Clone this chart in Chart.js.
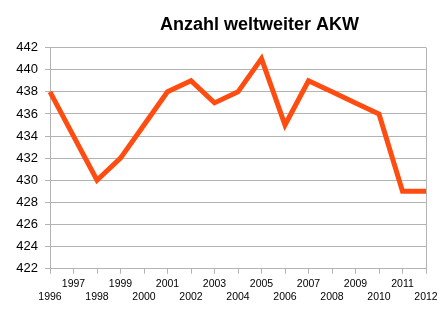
<!DOCTYPE html>
<html>
<head>
<meta charset="utf-8">
<script src="https://cdn.jsdelivr.net/npm/chart.js@4/dist/chart.umd.min.js"></script>
<style>
  html, body { margin: 0; padding: 0; background: #fff; }
  #wrap { width: 445px; height: 315px; }
</style>
</head>
<body>
<div id="wrap"><canvas id="myChart"></canvas></div>
<script>
// years on the x axis
var years = ['1996', '1997', '1998', '1999', '2000', '2001', '2002', '2003', '2004',
             '2005', '2006', '2007', '2008', '2009', '2010', '2011', '2012'];
// number of nuclear power plants worldwide
var plants = [438, 434, 430, 432, 435, 438, 439, 437, 438, 441, 435, 439, 438, 437, 436, 429, 429];

var grey = '#b3b3b3';

// move the title a bit to the right, like in the original
var shiftTitle = {
  id: 'shiftTitle',
  afterLayout: function(chart) {
    if (chart.titleBlock) {
      chart.titleBlock.left = 74;
      chart.titleBlock.right = 445;
    }
  }
};

var ctx = document.getElementById('myChart').getContext('2d');
var myChart = new Chart(ctx, {
  type: 'line',
  data: {
    labels: years,
    datasets: [{
      label: 'AKW',
      data: plants,
      borderColor: '#ff4d12',
      backgroundColor: '#ff4d12',
      borderWidth: 5,
      borderJoinStyle: 'miter',
      pointRadius: 0,
      tension: 0
    }]
  },
  options: {
    responsive: true,
    maintainAspectRatio: false,
    animation: false,
    layout: { padding: { top: 0, right: 19, bottom: 7, left: 0 } },
    plugins: {
      legend: { display: false },
      tooltip: { enabled: false },
      title: {
        display: true,
        text: 'Anzahl weltweiter AKW',
        color: '#000',
        font: { family: 'Liberation Sans', size: 18, weight: 'bold' },
        padding: { top: 14, bottom: 12 }
      }
    },
    scales: {
      x: {
        offset: false,
        grid: {
          color: function(c) { return (c.index === 0 || c.index === years.length - 1) ? grey : 'transparent'; },
          tickColor: grey,
          tickLength: 5
        },
        border: { color: grey },
        ticks: {
          autoSkip: false,
          maxRotation: 0,
          color: '#000',
          padding: 4,
          font: { family: 'Liberation Sans', size: 10.5, lineHeight: 1.25 },
          // odd years up, even years down
          callback: function(v, i) {
            return i % 2 === 1 ? [years[i], ''] : ['', years[i]];
          }
        }
      },
      y: {
        min: 422,
        max: 442,
        afterFit: function(scale) { scale.width = 50; },
        grid: { color: grey, tickColor: grey, tickLength: 5 },
        border: { color: grey },
        ticks: {
          stepSize: 2,
          color: '#000',
          padding: 7,
          font: { family: 'Liberation Sans', size: 13 }
        }
      }
    }
  },
  plugins: [shiftTitle]
});
</script>
</body>
</html>
